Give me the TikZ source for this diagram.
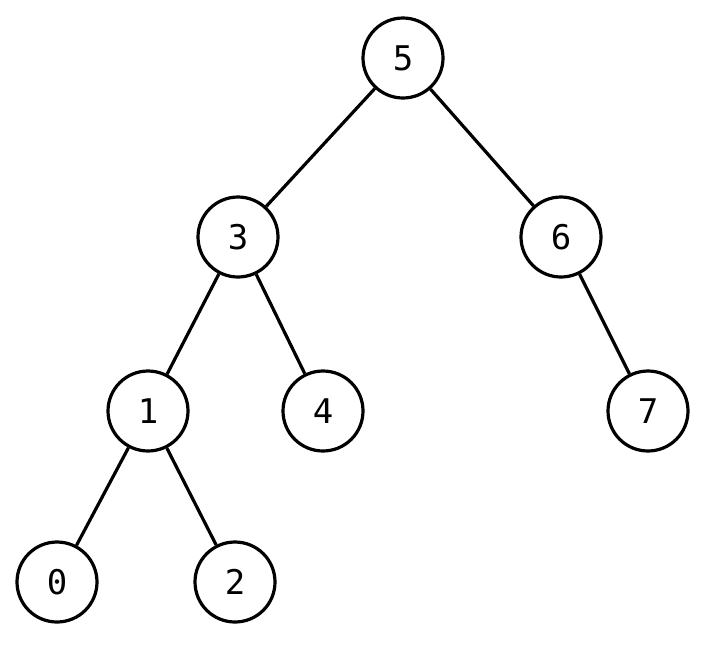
\documentclass[tikz,border=0pt]{standalone}
\usepackage{fontspec}
\setmonofont{DejaVu Sans Mono}
\begin{document}
\begin{tikzpicture}[x=1pt,y=-1pt,
  n/.style={circle,draw,line width=3.2pt,minimum size=80pt,inner sep=0pt,font=\ttfamily\fontsize{34}{34}\selectfont},
  e/.style={line width=3.2pt}]
\useasboundingbox (0,0) rectangle (707,649);
\node[n] (n5) at (403,58) {5};
\node[n] (n3) at (238,237) {3};
\node[n] (n6) at (561,237) {6};
\node[n] (n1) at (148,411) {1};
\node[n] (n4) at (323,411) {4};
\node[n] (n7) at (648,411) {7};
\node[n] (n0) at (57,582) {0};
\node[n] (n2) at (235,582) {2};
\draw[e] (n5)--(n3); \draw[e] (n5)--(n6);
\draw[e] (n3)--(n1); \draw[e] (n3)--(n4);
\draw[e] (n6)--(n7);
\draw[e] (n1)--(n0); \draw[e] (n1)--(n2);
\end{tikzpicture}
\end{document}
